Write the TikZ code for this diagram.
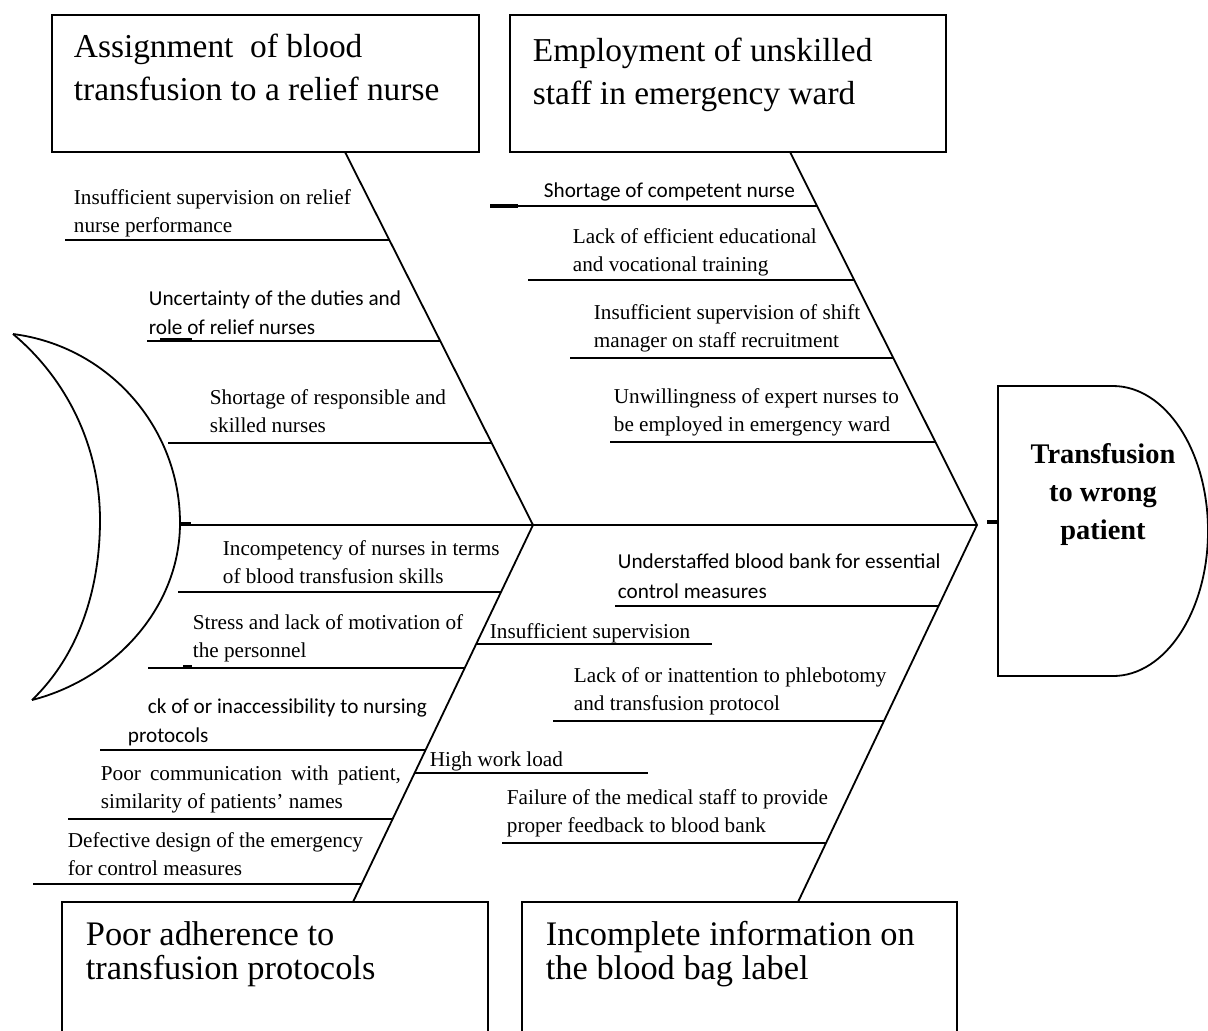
\documentclass[tikz,border=0pt]{standalone}
\usepackage{fontspec}
\setmainfont{Liberation Serif}
\newfontfamily\calibri{Carlito}
\usepackage{tikz}

\begin{document}
\begin{tikzpicture}[x=0.5pt,y=0.5pt,yscale=-1,xscale=1,line width=0.9pt,
  cause/.style={anchor=base west,inner sep=0pt,align=left,font=\fontsize{10.6}{14}\selectfont},
  causesf/.style={anchor=base west,inner sep=0pt,align=left,font=\fontsize{10.6}{14.5}\selectfont\calibri},
  cattxt/.style={anchor=base west,inner sep=0pt,align=left,font=\fontsize{16.7}{21.5}\selectfont},
  catbox/.style={draw,inner sep=0pt,minimum height=68.5pt},
  blot/.style={line width=2pt}]
\useasboundingbox (0,0) rectangle (1208,1030);

%Category boxes
\node[catbox,minimum width=213.5pt] (boxAssign) at (265.5,83.5) {};
\node[catbox,minimum width=218pt] (boxEmploy) at (728,83.5) {};
\node[catbox,minimum width=213pt,minimum height=80pt] (boxProtocol) at (275,982) {};
\node[catbox,minimum width=217.5pt,minimum height=80pt] (boxLabel) at (739.5,982) {};

% Text Node
\node[cattxt] (tAssign) at (73,100) {Assignment \ of blood\\transfusion to a relief nurse};
% Text Node
\node[cattxt] (tEmploy) at (532,104) {Employment of unskilled\\staff in emergency ward};
% Text Node
\node[cattxt,font=\fontsize{17.2}{17}\selectfont] (tProtocol) at (85,979) {Poor adherence to\\transfusion protocols};
% Text Node
\node[cattxt,font=\fontsize{17.2}{17}\selectfont] (tLabel) at (545,979) {Incomplete information on\\the blood bag label};

%Head of the fish
\draw (998,386) -- (1113,386) arc[start angle=-90,end angle=90,x radius=95,y radius=145] -- (998,676) -- cycle;
\node[anchor=base,inner sep=0pt,align=center,font=\fontsize{14.2}{19}\selectfont\bfseries] (effect) at (1103,539) {Transfusion\\to wrong\\patient};

%Tail of the fish
\draw (13,334) .. controls (108,346) and (180,427) .. (180,523) .. controls (180,608) and (114,679) .. (32,700);
\draw (13,334) .. controls (68,380) and (100,448) .. (100,520) .. controls (100,587) and (80,654) .. (32,700);

%Spine and bones
\coordinate (tail) at (180,525);
\coordinate (jL) at (533,525);
\coordinate (jR) at (977,525);
\coordinate (bA) at (345,152);
\coordinate (bB) at (790,152);
\coordinate (bC) at (353,902);
\coordinate (bD) at (798,902);
\draw (tail) -- (jR);
\draw (bA) -- (jL) -- (bC);
\draw (bB) -- (jR) -- (bD);

%Straight Lines
\draw (65,240) -- (389,240);
\draw (147,341) -- (440,341);
\draw (168,443) -- (492,443);
\draw (490,206) -- (817,206);
\draw (528,280) -- (854,280);
\draw (570,358) -- (893,358);
\draw (610,442) -- (935,442);
\draw (178,592) -- (501,592);
\draw (148,668) -- (465,668);
\draw (100,750) -- (426,750);
\draw (68,819) -- (393,819);
\draw (33,884) -- (362,884);
\draw (615,606) -- (938,606);
\draw (476,644) -- (712,644);
\draw (553,721) -- (884,721);
\draw (415,773) -- (648,773);
\draw (502,843) -- (826,843);

%small marks
\draw[blot] (987,522) -- (997,522);
\draw[blot] (181,524) -- (191,524);
\draw[blot] (160,340) -- (192,340);
\draw[blot] (183,667) -- (192,667);
\draw[blot] (490,206) -- (518,206);

% Text Node
\node[cause] (supRelief) at (73,232) {Insufficient supervision on relief\\nurse performance};
% Text Node
\node[causesf] (roleRelief) at (148,334) {Uncertainty of the duties and\\role of relief nurses};
% Text Node
\node[cause] (shortSkill) at (209,432) {Shortage of responsible and\\skilled nurses};
% Text Node
\node[causesf] (shortComp) at (543,197) {Shortage of competent nurse};
% Text Node
\node[cause] (training) at (572,271) {Lack of efficient educational\\and vocational training};
% Text Node
\node[cause] (supShift) at (593,347) {Insufficient supervision of shift\\manager on staff recruitment};
% Text Node
\node[cause] (unwilling) at (613,431) {Unwillingness of expert nurses to\\be employed in emergency ward};
% Text Node
\node[cause] (incomp) at (222,583) {Incompetency of nurses in terms\\of blood transfusion skills};
% Text Node
\node[cause] (stress) at (192,657) {Stress and lack of motivation of\\the personnel};
% Text Node
\node[causesf] (access) at (127,742) {\hspace*{10pt}ck of or inaccessibility to nursing\\protocols};
% Text Node
\node[cause] (commun) at (100,808) {\makebox[150pt][s]{Poor communication with patient,}\\similarity of patients' names};
% Text Node
\node[cause] (design) at (67,875) {Defective design of the emergency\\for control measures};
% Text Node
\node[causesf,font=\fontsize{10.6}{15}\selectfont\calibri] (understaff) at (617,598) {Understaffed blood bank for essential\\control measures};
% Text Node
\node[cause] (supGen) at (489,638) {Insufficient supervision};
% Text Node
\node[cause] (phleb) at (573,710) {Lack of or inattention to phlebotomy\\and transfusion protocol};
% Text Node
\node[cause] (workload) at (429,766) {High work load};
% Text Node
\node[cause] (feedback) at (506,832) {Failure of the medical staff to provide\\proper feedback to blood bank};

\end{tikzpicture}
\end{document}
